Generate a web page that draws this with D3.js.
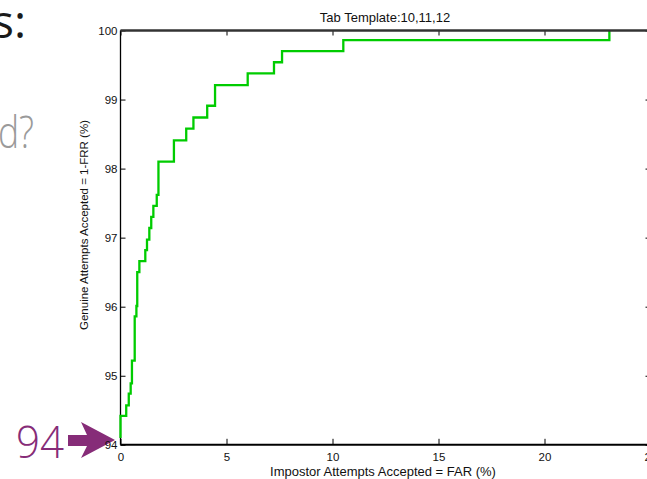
<!DOCTYPE html>
<html>
<head>
<meta charset="utf-8">
<script src="https://d3js.org/d3.v7.min.js"></script>
<style>
body { margin: 0; background: #fff; }
svg { display: block; font-family: "Liberation Sans", Arial, sans-serif; }
</style>
</head>
<body>
<div id="chart"></div>
<script>
// ROC steps: FAR (%) where the curve jumps, and the new 1-FRR (%)
var farValues = [0, 0, 0.27, 0.39, 0.48, 0.54, 0.67, 0.75, 0.79, 0.89, 1.17, 1.25, 1.36, 1.45, 1.55, 1.71, 1.79, 2.52, 3.10, 3.44, 4.09, 4.46, 6.00, 7.24, 7.62, 10.51, 23.06]
var garValues = [94.10, 94.42, 94.57, 94.74, 94.89, 95.22, 95.86, 96.01, 96.50, 96.66, 96.82, 96.97, 97.14, 97.30, 97.46, 97.62, 98.10, 98.41, 98.58, 98.74, 98.91, 99.21, 99.38, 99.54, 99.70, 99.86, 100]
var xTicks = [0, 5, 10, 15, 20, 25]
var yTicks = [94, 95, 96, 97, 98, 99, 100]
var chartTitle = "Tab Template:10,11,12"
var xTitle = "Impostor Attempts Accepted = FAR (%)"
var yTitle = "Genuine Attempts Accepted = 1-FRR (%)"

var width = 647
height = 479

var svg = d3.select("#chart")
    .append("svg")
    .attr("width", width)
    .attr("height", height)

// slide fragments around the figure
svg.append("text").attr("x", 26).attr("y", 38).attr("text-anchor", "end")
    .text("s:").style("font-size", "46px").style("font-family", "'Open Sans', sans-serif").style("fill", "#1a1a1a")
svg.append("text").attr("x", -2).attr("y", 148)
    .attr("textLength", 36).attr("lengthAdjust", "spacingAndGlyphs")
    .text("d?").style("font-size", "45px").style("font-family", "'Open Sans', sans-serif").style("font-weight", 300).style("fill", "#9a9a9a")
svg.append("text").attr("x", 16).attr("y", 458)
    .attr("textLength", 48).attr("lengthAdjust", "spacingAndGlyphs")
    .text("94").style("font-size", "45px").style("font-family", "'Open Sans', sans-serif").style("font-weight", 300).style("fill", "#862c78")
svg.append("path")
    .attr("d", "M68,435 L87,435 L81,422 L115,440 L81,458 L87,446 L68,446 Z")
    .style("fill", "#862c78")

var x = d3.scaleLinear().domain([0, 25]).range([120.5, 650.5])
var y = d3.scaleLinear().domain([94, 100]).range([444.8, 30.5])

// axes, MATLAB style: ticks pointing inwards on all four sides
var gLeft = svg.append("g").attr("transform", "translate(" + x(0) + ",0)")
    .call(d3.axisLeft(y).tickValues(yTicks).tickFormat(d3.format("d")).tickSize(-5).tickPadding(3))
var gRight = svg.append("g").attr("transform", "translate(" + x(25) + ",0)")
    .call(d3.axisRight(y).tickValues(yTicks).tickSize(-5).tickFormat(""))
var gBottom = svg.append("g").attr("transform", "translate(0," + y(94) + ")")
    .call(d3.axisBottom(x).tickValues(xTicks).tickFormat(d3.format("d")).tickSize(-6).tickPadding(8))
var gTop = svg.append("g").attr("transform", "translate(0," + y(100) + ")")
    .call(d3.axisTop(x).tickValues(xTicks).tickSize(-5).tickFormat(""))

svg.selectAll(".domain").remove()
svg.selectAll(".tick line").style("stroke", "#000").style("stroke-width", 1)
svg.selectAll(".tick text").style("font-size", "11.5px").style("fill", "#111").style("font-family", "'Liberation Sans', Arial, sans-serif")

// box
svg.append("line").attr("x1", x(0)).attr("x2", x(0)).attr("y1", y(100)).attr("y2", y(94)).style("stroke", "#000").style("stroke-width", 1.3)
svg.append("line").attr("x1", x(25)).attr("x2", x(25)).attr("y1", y(100)).attr("y2", y(94)).style("stroke", "#000").style("stroke-width", 1.3)
svg.append("line").attr("x1", x(0)).attr("x2", x(25)).attr("y1", y(94)).attr("y2", y(94)).style("stroke", "#000").style("stroke-width", 2)

// the curve
var points = farValues.map(function(f, i) { return [f, garValues[i]] })
var line = d3.line()
    .x(function(d) { return x(d[0]) })
    .y(function(d) { return y(d[1]) })
    .curve(d3.curveStepAfter)
svg.append("path")
    .datum(points)
    .attr("d", line)
    .style("fill", "none")
    .style("stroke", "#00cc00")
    .style("stroke-width", 2.3)

svg.append("line").attr("x1", x(0)).attr("x2", x(25)).attr("y1", y(100)).attr("y2", y(100)).style("stroke", "#333").style("stroke-width", 2.5)

// titles
svg.append("text").attr("x", 385).attr("y", 22).attr("text-anchor", "middle")
    .text(chartTitle).style("font-size", "13px").style("fill", "#111")
svg.append("text").attr("x", 383).attr("y", 476).attr("text-anchor", "middle")
    .text(xTitle).style("font-size", "13px").style("fill", "#111")
svg.append("text").attr("transform", "translate(88,225) rotate(-90)").attr("text-anchor", "middle")
    .text(yTitle).style("font-size", "11.5px").style("fill", "#111")
</script>
</body>
</html>
